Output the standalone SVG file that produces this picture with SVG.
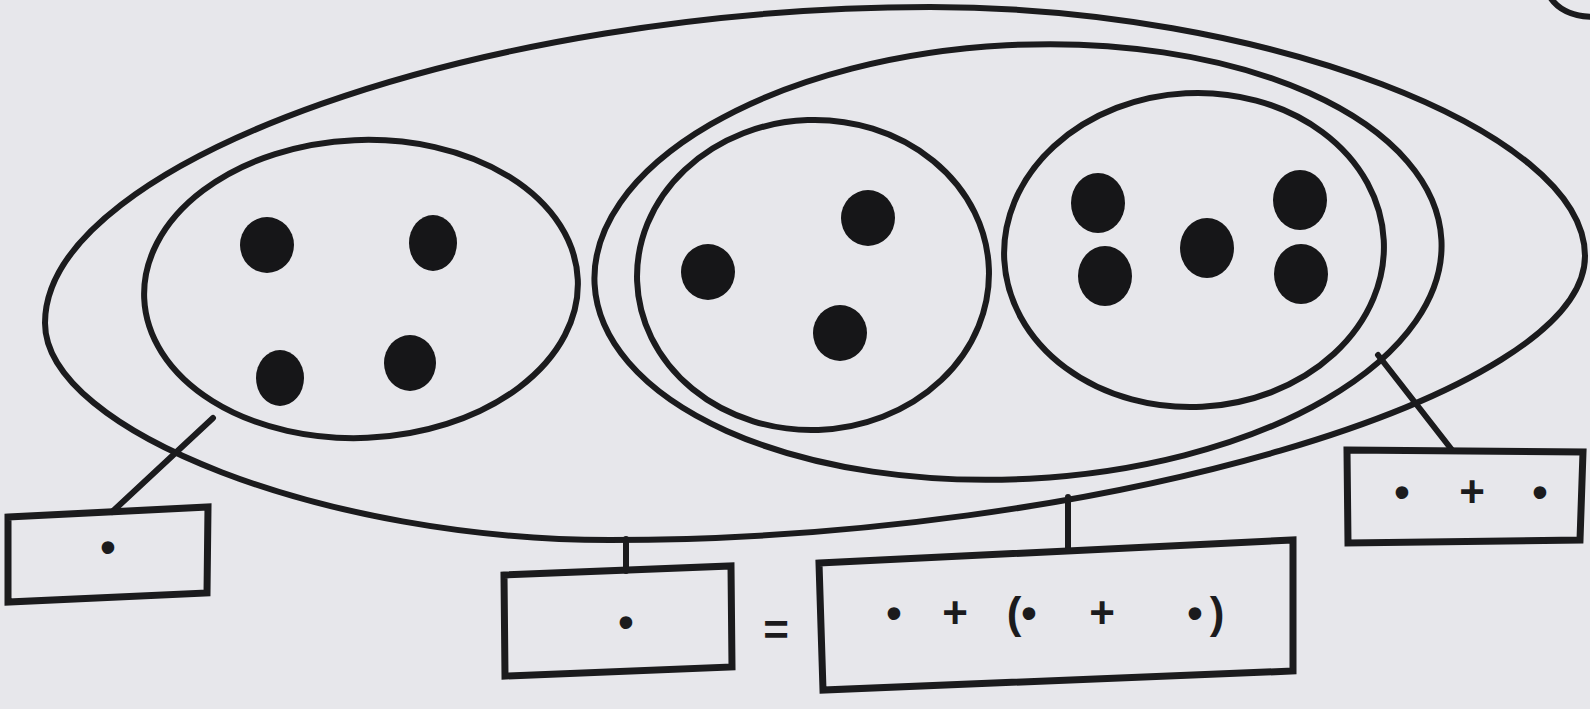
<svg xmlns="http://www.w3.org/2000/svg" width="1590" height="709" viewBox="0 0 1590 709">
<style>
.ln{fill:none;stroke:#1b1b1d;stroke-width:6;stroke-linecap:round;stroke-linejoin:round}
.bx{fill:none;stroke:#1b1b1d;stroke-width:7;stroke-linejoin:miter}
.dot{fill:#161618}
.t{font-family:"Liberation Sans",Arial,sans-serif;font-weight:bold;font-size:44px;fill:#1b1b1d;text-anchor:middle;dominant-baseline:central}
</style>
<rect width="1590" height="709" fill="#e7e7eb"/>
<path class="ln" d="M1550,-3 Q1562,16 1593,17"/>
<g id="outer-set">
<path class="ln" d="M45,323 C45,160 487.5,7 930,7 C1262,7 1585,130 1585,256 C1585,396.5 1097.5,540 610,540 C327.5,540 45,431.5 45,323 Z"/>
</g>
<g id="middle-set">
<ellipse class="ln" cx="1018" cy="262" rx="424" ry="217" transform="rotate(-3 1018 262)"/>
</g>
<g id="set-4">
<ellipse class="ln" cx="361" cy="289" rx="217" ry="149" transform="rotate(-2.5 361 289)"/>
<ellipse class="dot" cx="267" cy="245" rx="27" ry="28"/>
<ellipse class="dot" cx="433" cy="243" rx="24" ry="28"/>
<ellipse class="dot" cx="280" cy="378" rx="24" ry="28"/>
<ellipse class="dot" cx="410" cy="363" rx="26" ry="28"/>
</g>
<g id="set-3">
<ellipse class="ln" cx="813" cy="275" rx="176" ry="155" transform="rotate(-2 813 275)"/>
<ellipse class="dot" cx="708" cy="272" rx="27" ry="28"/>
<ellipse class="dot" cx="868" cy="218" rx="27" ry="28"/>
<ellipse class="dot" cx="840" cy="333" rx="27" ry="28"/>
</g>
<g id="set-5">
<ellipse class="ln" cx="1194" cy="250" rx="190" ry="157" transform="rotate(-3 1194 250)"/>
<ellipse class="dot" cx="1098" cy="203" rx="27" ry="30"/>
<ellipse class="dot" cx="1105" cy="276" rx="27" ry="30"/>
<ellipse class="dot" cx="1207" cy="248" rx="27" ry="30"/>
<ellipse class="dot" cx="1300" cy="200" rx="27" ry="30"/>
<ellipse class="dot" cx="1301" cy="274" rx="27" ry="30"/>
</g>
<g id="connectors">
<path class="ln" d="M213,418 L112,512"/>
<path class="ln" d="M626,539 L626,571"/>
<path class="ln" d="M1068,497 L1068,551"/>
<path class="ln" d="M1378,355 L1452,450"/>
</g>
<g id="box-1">
<polygon class="bx" points="8,517 208,507 207,593 8,602"/>
<text class="t" x="108" y="546">•</text>
</g>
<g id="box-2">
<polygon class="bx" points="504,575 731,566 732,667 505,676"/>
<text class="t" x="626" y="621">•</text>
</g>
<g id="equals">
<text class="t" x="776" y="629">=</text>
</g>
<g id="box-3">
<polygon class="bx" points="819,563 1293,540 1293,671 823,690"/>
<text class="t" x="894 920 955 990 1014 1029 1060 1102 1150 1195 1217" y="612">• + (• + •)</text>
</g>
<g id="box-4">
<polygon class="bx" points="1347,450 1583,452 1580,540 1348,543"/>
<text class="t" x="1402 1437 1472 1506 1540" y="491">• + •</text>
</g>
</svg>
